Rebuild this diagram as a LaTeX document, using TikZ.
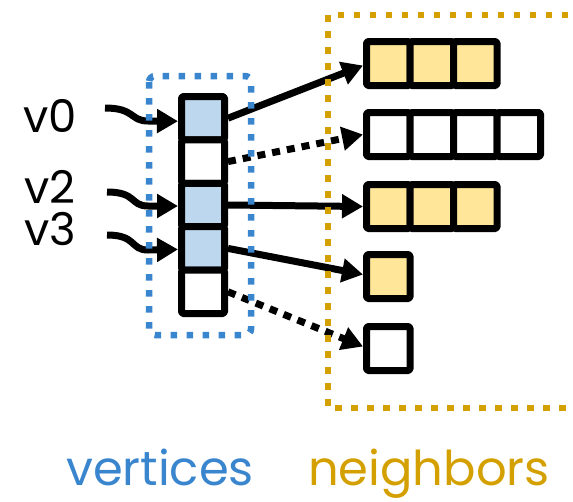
\documentclass[tikz,border=0pt]{standalone}
\usepackage{fontspec}
\setmainfont{Poppins}
\usetikzlibrary{arrows.meta}

\definecolor{vblue}{HTML}{3A86CE}
\definecolor{ngold}{HTML}{D4A000}
\definecolor{vfill}{HTML}{BDD7EE}
\definecolor{nfill}{HTML}{FFE699}

\tikzset{
  cellbase/.style={draw=black, line width=7pt, rectangle, inner sep=0pt,
    line join=round, rounded corners=1.5pt},
  vcell/.style={cellbase, minimum width=43pt, minimum height=43.4pt, fill=white},
  vcellon/.style={vcell, fill=vfill},
  ncell/.style={cellbase, minimum width=43.5pt, minimum height=44pt, fill=white},
  ncellon/.style={ncell, fill=nfill},
  ptr/.style={line width=7pt, -{Triangle[length=21pt,width=23pt]}},
  ptrnull/.style={ptr, dash pattern=on 8pt off 7pt},
  inptr/.style={line width=7pt, -{Triangle[length=21pt,width=23pt]}},
  groupbox/.style={line width=6.5pt, dash pattern=on 6.5pt off 9.5pt},
  vlabel/.style={font=\fontsize{45}{45}\selectfont, anchor=base, inner sep=0pt},
  caption/.style={font=\fontsize{48}{48}\selectfont, anchor=base, inner sep=0pt},
}

\begin{document}
\begin{tikzpicture}[x=1pt, y=-1pt]
  \clip (0,0) rectangle (573,501);

  % vertex array
  \node[vcellon] (c1) at (203,118.2) {};
  \node[vcell]   (c2) at (203,161.6) {};
  \node[vcellon] (c3) at (203,205.0) {};
  \node[vcellon] (c4) at (203,248.4) {};
  \node[vcell]   (c5) at (203,291.8) {};

  % neighbor lists
  \node[ncellon] (r1a) at (388.25,63.5) {};
  \node[ncellon] (r1b) at (431.75,63.5) {};
  \node[ncellon] (r1c) at (475.25,63.5) {};

  \node[ncell] (r2a) at (388.25,134.5) {};
  \node[ncell] (r2b) at (431.75,134.5) {};
  \node[ncell] (r2c) at (475.25,134.5) {};
  \node[ncell] (r2d) at (518.75,134.5) {};

  \node[ncellon] (r3a) at (388.25,206.5) {};
  \node[ncellon] (r3b) at (431.75,206.5) {};
  \node[ncellon] (r3c) at (475.25,206.5) {};

  \node[ncellon] (r4a) at (388.25,276.5) {};

  \node[ncell] (r5a) at (388.25,348.5) {};

  % vertex names
  \node[vlabel] (v0) at (50,132) {v0};
  \node[vlabel] (v2) at (50,203) {v2};
  \node[vlabel] (v3) at (50,245) {v3};

  \coordinate (s0) at (105,108);
  \coordinate (s2) at (107,192);
  \coordinate (s3) at (107,235);
  \coordinate (k0) at (148,121);
  \coordinate (k2) at (148,206);
  \coordinate (k3) at (148,250);

  % incoming pointers
  \draw[inptr] (s0) .. controls +(30,0) and +(-18,0) .. (k0) -- ([yshift=-3pt]c1.west);
  \draw[inptr] (s2) .. controls +(30,0) and +(-18,0) .. (k2) -- ([yshift=-1pt]c3.west);
  \draw[inptr] (s3) .. controls +(30,0) and +(-18,0) .. (k3) -- ([yshift=-1pt]c4.west);

  % offsets into the neighbor lists
  \draw[ptr]     (c1.east) -- ([yshift=-2pt]r1a.west);
  \draw[ptrnull] (c2.east) -- (r2a.west);
  \draw[ptr]     (c3.east) -- (r3a.west);
  \draw[ptr]     (c4.east) -- ([yshift=2pt]r4a.west);
  \draw[ptrnull] (c5.east) -- ([yshift=2pt]r5a.west);

  % group outlines
  \draw[groupbox, draw=vblue, rounded corners=6pt] (149,76) rectangle (251,335);
  \draw[groupbox, draw=ngold] (600,15) -- (328,15) -- (328,408) -- (600,408);

  % captions
  \node[caption, text=vblue] (capv) at (160,485) {vertices};
  \node[caption, text=ngold] (capn) at (429,485) {neighbors};
\end{tikzpicture}
\end{document}
